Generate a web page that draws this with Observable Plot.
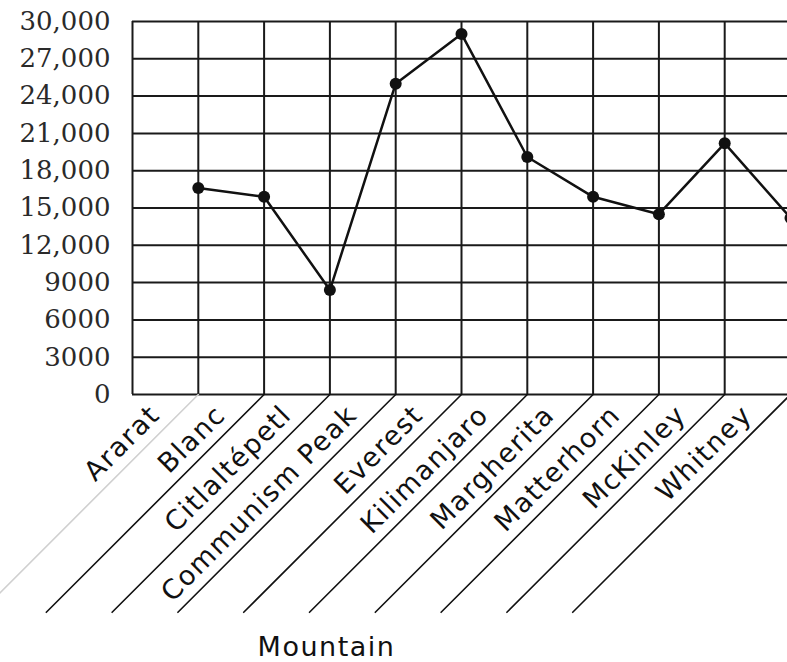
<!DOCTYPE html>
<html><head><meta charset="utf-8">
<script src="https://cdn.jsdelivr.net/npm/d3@7"></script>
<script src="https://cdn.jsdelivr.net/npm/@observablehq/plot@0.6"></script>
<style>
html,body{margin:0;padding:0;background:#fff;overflow:hidden}
</style></head><body><div id="chart"></div>
<script>
const mountains = ["Ararat","Blanc","Citlaltépetl","Communism Peak","Everest","Kilimanjaro","Margherita","Matterhorn","McKinley","Whitney"];
const heights = [16600, 15900, 8400, 25000, 29000, 19100, 15900, 14500, 20200, 14200];
const yTicks = [0, 3000, 6000, 9000, 12000, 15000, 18000, 21000, 24000, 27000, 30000];
const yTickLabels = ["0","3000","6000","9000","12,000","15,000","18,000","21,000","24,000","27,000","30,000"];
const xAxisTitle = "Mountain";

const data = mountains.map((name, i) => ({name, pos: i + 1, height: heights[i]}));
const gridX = d3.range(0, mountains.length + 1);

const chart = Plot.plot({
  width: 787, height: 662,
  marginLeft: 132, marginRight: 0, marginTop: 21, marginBottom: 268,
  style: {background: "#fff", color: "#111"},
  x: {type: "linear", domain: [0, 10], range: [132, 790], axis: null},
  y: {domain: [0, 30000], range: [394, 21]},
  marks: [
    Plot.ruleY(yTicks, {stroke: "#1a1a1a", strokeWidth: 2}),
    Plot.ruleX(gridX, {y1: 0, y2: 30000, stroke: "#1a1a1a", strokeWidth: 2}),
    Plot.axisY({ticks: yTicks, tickFormat: d => yTickLabels[yTicks.indexOf(d)], tickSize: 0, tickPadding: 22,
      fontSize: 26, fontFamily: "DejaVu Serif", fill: "#2a2a2a", label: null}),
    Plot.vector(data, {x: "pos", y: 0, length: 308, rotate: 225, anchor: "start", r: 0,
      stroke: d => d.pos === 1 ? "#d0d0d0" : "#111", strokeWidth: 1.6}),
    Plot.line(data, {x: "pos", y: "height", stroke: "#111", strokeWidth: 2.5}),
    Plot.dot(data, {x: "pos", y: "height", r: 6, fill: "#111"}),
    Plot.text(data, {x: "pos", y: 0, text: "name", rotate: -45, textAnchor: "end", lineAnchor: "bottom", dx: -37, dy: 22,
      fontSize: 27, fontFamily: "DejaVu Sans", fill: "#111"}),
    Plot.text([xAxisTitle], {frameAnchor: "bottom-left", dx: 194, dy: 261, textAnchor: "middle", lineAnchor: "bottom",
      fontSize: 27, fontFamily: "DejaVu Sans", fill: "#111"})
  ]
});
d3.select(chart).selectAll('g[aria-label="text"] text').style("letter-spacing", "1.5px");
document.getElementById("chart").appendChild(chart);
</script></body></html>
